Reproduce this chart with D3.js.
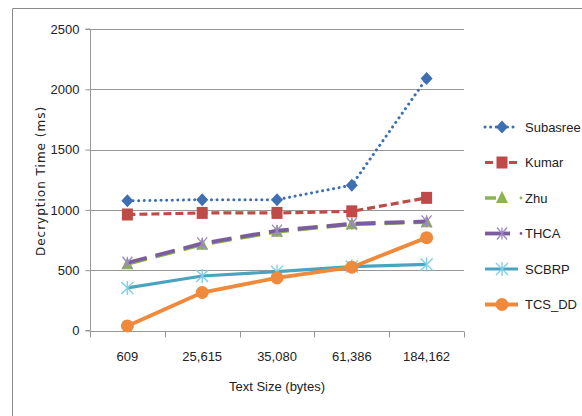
<!DOCTYPE html>
<html><head><meta charset="utf-8">
<script src="https://cdn.jsdelivr.net/npm/d3@7/dist/d3.min.js"></script>
<style>body{margin:0;background:#fff}svg{display:block}text{font-family:"Liberation Sans",Arial,sans-serif;fill:#222}</style>
</head><body><svg id="c" width="582" height="416"></svg>
<script>
const categories = ["609","25,615","35,080","61,386","184,162"];
const yTicks = [0,500,1000,1500,2000,2500];
const seriesNames = ["Subasree","Kumar","Zhu","THCA","SCBRP","TCS_DD"];
const subasree = [1075,1085,1085,1205,2090];
const kumar = [962,975,975,988,1100];
const zhu = [550,712,818,880,898];
const thca = [562,722,828,885,905];
const scbrp = [353,452,488,530,548];
const tcsdd = [38,315,436,525,770];
const values = [subasree,kumar,zhu,thca,scbrp,tcsdd];

const styles = [
  {color:"#3e6fb3", width:3, dash:"0.1,5.5", cap:"round", marker:"diamond"},
  {color:"#be4b48", width:3.2, dash:"8,4", cap:"butt", marker:"square"},
  {color:"#8cb44c", width:3.5, dash:"20,9", cap:"butt", marker:"triangle"},
  {color:"#7b5c9f", width:3.8, dash:"20,9", cap:"butt", marker:"x"},
  {color:"#4aa4bf", width:3.2, dash:null, cap:"butt", marker:"asterisk"},
  {color:"#ef8a3c", width:3.8, dash:null, cap:"butt", marker:"circle"}
];

const svg = d3.select("#c");
const L=90,R=464,T=29,B=330.5;
const x = d3.scaleBand().domain(categories).range([L,R]);
const y = d3.scaleLinear().domain([0,2500]).range([B,T]);

// frame
svg.append("path").attr("d","M12.5,420V8.5H590").attr("fill","none").attr("stroke","#8a8a8a").attr("stroke-width",1);

// gridlines
svg.append("g").selectAll("line").data(yTicks.filter(d=>d>0)).join("line")
  .attr("x1",L).attr("x2",R).attr("y1",d=>Math.round(y(d))+0.5).attr("y2",d=>Math.round(y(d))+0.5)
  .attr("stroke","#979797").attr("stroke-width",1.2);

// y axis
const ya = svg.append("g").attr("transform",`translate(${L+0.5},0)`)
  .call(d3.axisLeft(y).tickValues(yTicks).tickSize(5).tickPadding(6).tickFormat(d3.format("d")));
ya.select(".domain").attr("stroke","#979797").attr("d",`M-5,${T}H0V${B}H-5`);
ya.selectAll(".tick line").attr("stroke","#979797");
ya.selectAll(".tick text").style("font-size","13px").attr("fill","#222").style("font-family","Liberation Sans,Arial");

// x axis
const xa = svg.append("g").attr("transform",`translate(0,${Math.round(B)+0.5})`)
  .call(d3.axisBottom(x).tickSize(0).tickPadding(20));
xa.select(".domain").attr("stroke","#979797").attr("d",`M${L},0H${R}`);
xa.selectAll(".tick text").style("font-size","13px").attr("fill","#222").style("font-family","Liberation Sans,Arial");
const bounds = categories.map(c=>x(c)).concat([R]);
xa.append("g").selectAll("line").data(bounds).join("line")
  .attr("x1",d=>Math.round(d)+0.5).attr("x2",d=>Math.round(d)+0.5).attr("y1",0).attr("y2",6).attr("stroke","#979797");

// titles
svg.append("text").attr("x",277).attr("y",391).attr("text-anchor","middle").style("font-size","13px").text("Text Size (bytes)");
svg.append("text").attr("transform","translate(45,181) rotate(-90)").attr("text-anchor","middle")
  .style("font-size","12px").style("font-family","DejaVu Sans").style("letter-spacing","1px").text("Decryption Time (ms)");

function drawMarker(g, type, cx, cy, col){
  if(type==="diamond"){
    g.append("path").attr("d",`M${cx},${cy-6.5}L${cx+6},${cy}L${cx},${cy+6.5}L${cx-6},${cy}Z`).attr("fill",col);
  } else if(type==="square"){
    g.append("rect").attr("x",cx-5.5).attr("y",cy-6).attr("width",11).attr("height",12).attr("fill",col);
  } else if(type==="triangle"){
    g.append("path").attr("d",`M${cx},${cy-7}L${cx+6},${cy+5}L${cx-6},${cy+5}Z`).attr("fill",col);
  } else if(type==="x"){
    g.append("path").attr("d",`M${cx-5},${cy-6}L${cx+5},${cy+6}M${cx+5},${cy-6}L${cx-5},${cy+6}M${cx},${cy-6}V${cy+6}`)
      .attr("stroke","#9c87c2").attr("stroke-width",1.3).attr("fill","none");
  } else if(type==="asterisk"){
    g.append("path").attr("d",`M${cx-6},${cy-6}L${cx+6},${cy+6}M${cx+6},${cy-6}L${cx-6},${cy+6}M${cx},${cy-7}V${cy+7}`)
      .attr("stroke","#7fd0e6").attr("stroke-width",1.4).attr("fill","none");
  } else if(type==="circle"){
    g.append("circle").attr("cx",cx).attr("cy",cy).attr("r",6.5).attr("fill",col);
  }
}

const line = d3.line().x((d,i)=>x(categories[i])+x.bandwidth()/2).y(d=>y(d));
const order = [2,3,1,0,4,5];
order.forEach(si=>{
  const s = styles[si];
  const g = svg.append("g");
  g.append("path").datum(values[si]).attr("d",line).attr("fill","none")
    .attr("stroke",s.color).attr("stroke-width",s.width).attr("stroke-dasharray",s.dash).attr("stroke-linecap",s.cap);
  values[si].forEach((v,i)=>drawMarker(g,s.marker,x(categories[i])+x.bandwidth()/2,y(v),s.color));
});

// legend
const lg = svg.append("g");
seriesNames.forEach((n,i)=>{
  const s = styles[i];
  const ly = 127 + i*35.5;
  const g = lg.append("g");
  if(i===2||i===3){
    g.append("line").attr("x1",485).attr("x2",i===2?496:510).attr("y1",ly).attr("y2",ly)
      .attr("stroke",s.color).attr("stroke-width",s.width);
    g.append("circle").attr("cx",521).attr("cy",ly).attr("r",1.4).attr("fill",s.color);
  } else {
    g.append("line").attr("x1",485).attr("x2",518).attr("y1",ly).attr("y2",ly)
      .attr("stroke",s.color).attr("stroke-width",s.width).attr("stroke-dasharray",s.dash).attr("stroke-linecap",s.cap);
  }
  drawMarker(g,s.marker,502,ly,s.color);
  g.append("text").attr("x",525).attr("y",ly+4.5).style("font-size","13px").text(n);
});
</script></body></html>
